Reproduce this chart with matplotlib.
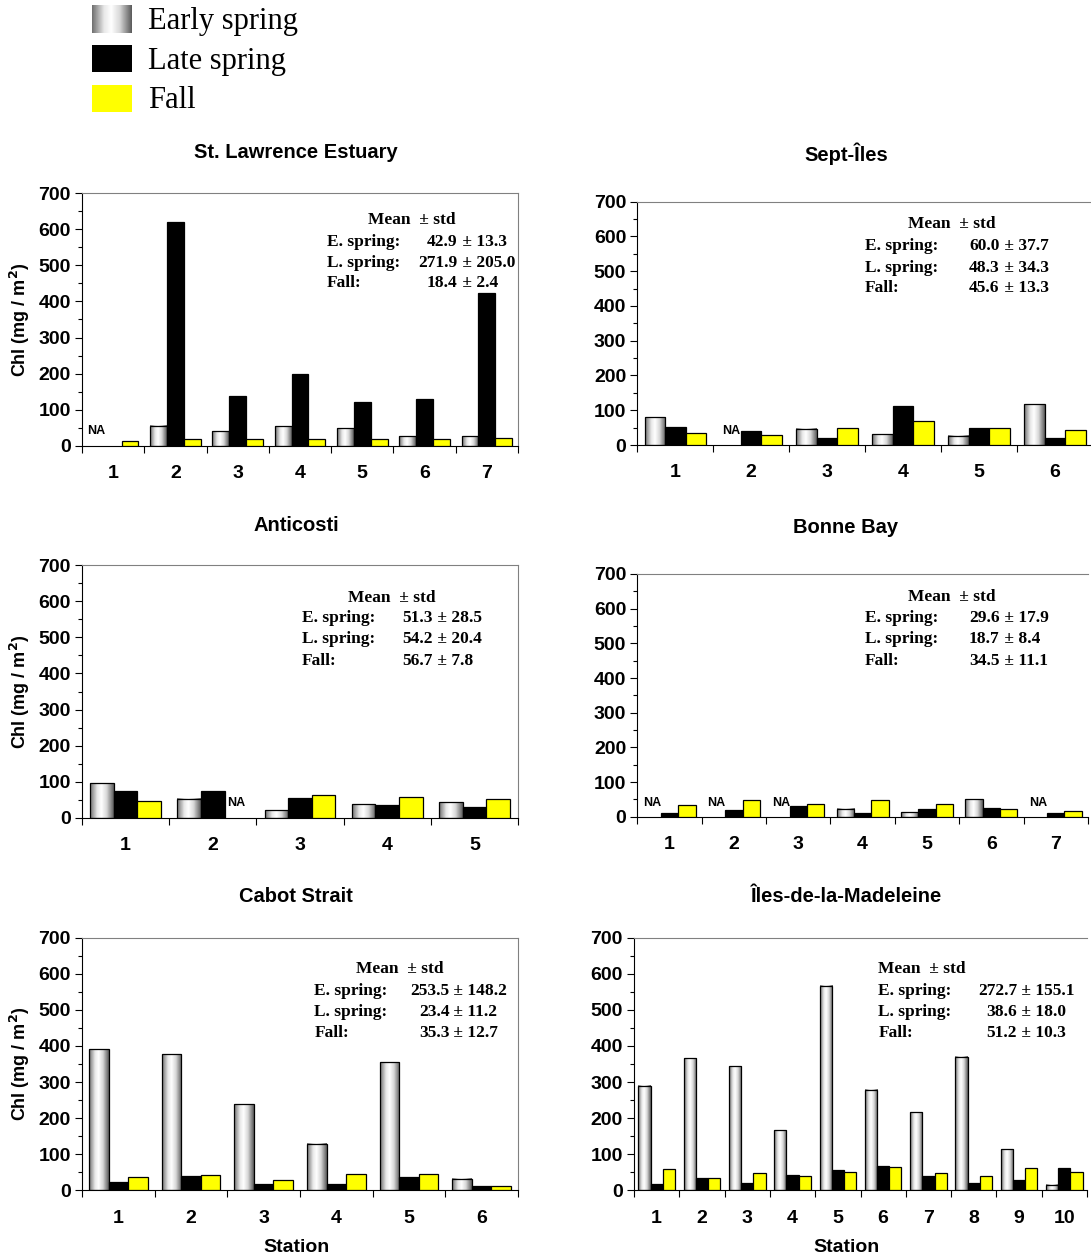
import numpy as np
import matplotlib
matplotlib.use('Agg')
import matplotlib.pyplot as plt
from matplotlib.colors import LinearSegmentedColormap
from matplotlib.patches import Rectangle

W, H = 1091, 1260
nan = np.nan

season_names = ['Early spring', 'Late spring', 'Fall']
stat_rows = ['E. spring:', 'L. spring:', 'Fall:']

# St. Lawrence Estuary
sle_stations = ['1', '2', '3', '4', '5', '6', '7']
sle_early = [nan, 55.5, 39.8, 54.6, 49.0, 26.8, 26.8]
sle_late = [nan, 620.5, 137.8, 198.8, 120.2, 129.5, 423.5]
sle_fall = [13.9, 17.6, 17.6, 19.4, 19.4, 17.6, 22.2]
sle_mean = ['42.9', '271.9', '18.4']
sle_std = ['13.3', '205.0', '2.4']
sle_na = [(0, 0)]

# Sept-Iles
sep_stations = ['1', '2', '3', '4', '5', '6']
sep_early = [79.6, nan, 47.0, 30.7, 26.8, 117.9]
sep_late = [52.7, 39.3, 21.1, 113.1, 48.9, 20.1]
sep_fall = [35.5, 28.8, 49.9, 68.1, 48.9, 44.1]
sep_mean = ['60.0', '48.3', '45.6']
sep_std = ['37.7', '34.3', '13.3']
sep_na = [(1, 0)]

# Anticosti
ant_stations = ['1', '2', '3', '4', '5']
ant_early = [96.2, 52.7, 21.3, 37.0, 42.5]
ant_late = [74.9, 73.1, 54.6, 36.1, 30.5]
ant_fall = [47.2, nan, 62.9, 58.3, 52.7]
ant_mean = ['51.3', '54.2', '56.7']
ant_std = ['28.5', '20.4', '7.8']
ant_na = [(1, 2)]

# Bonne Bay
bon_stations = ['1', '2', '3', '4', '5', '6', '7']
bon_early = [nan, nan, nan, 23.1, 14.4, 50.0, nan]
bon_late = [9.6, 20.2, 29.8, 11.5, 23.1, 26.0, 9.6]
bon_fall = [33.7, 47.1, 35.6, 47.1, 35.6, 21.2, 17.3]
bon_mean = ['29.6', '18.7', '34.5']
bon_std = ['17.9', '8.4', '11.1']
bon_na = [(0, 0), (1, 0), (2, 0), (6, 0)]

# Cabot Strait
cab_stations = ['1', '2', '3', '4', '5', '6']
cab_early = [390.6, 376.7, 238.2, 129.3, 354.6, 30.5]
cab_late = [23.1, 38.8, 16.6, 16.6, 36.0, 11.1]
cab_fall = [36.9, 42.5, 29.5, 44.3, 46.2, 12.0]
cab_mean = ['253.5', '23.4', '35.3']
cab_std = ['148.2', '11.2', '12.7']

# Iles-de-la-Madeleine
mad_stations = ['1', '2', '3', '4', '5', '6', '7', '8', '9', '10']
mad_early = [290.0, 365.7, 343.5, 166.2, 567.0, 278.9, 216.1, 370.3, 113.6, 13.9]
mad_late = [16.6, 34.2, 20.3, 42.5, 55.4, 66.5, 40.6, 20.3, 27.7, 61.9]
mad_fall = [60.0, 34.2, 48.9, 40.6, 51.7, 65.6, 48.9, 40.6, 61.9, 50.8]
mad_mean = ['272.7', '38.6', '51.2']
mad_std = ['155.1', '18.0', '10.3']

SANS = 'Liberation Sans'
SERIF = 'Liberation Serif'
TICK_FS = 14
STAT_FS = 12.5

cyl = LinearSegmentedColormap.from_list(
    'cyl', [(0, '#707070'), (0.3, '#e8e8e8'), (0.48, '#ffffff'),
            (0.7, '#d8d8d8'), (1, '#5c5c5c')])
grad = np.linspace(0, 1, 64).reshape(1, -1)

fig = plt.figure(figsize=(W / 100, H / 100), dpi=100)


def px(x, y):
    return x / W, 1 - y / H


def add_panel(box, title, title_xy, stations, early, late, fall, mean, std,
              stat_pos, na=(), xlabel=False, ylabel=True, right_col=False):
    left, top, right, bottom = box
    ax = fig.add_axes([left / W, 1 - bottom / H, (right - left) / W, (bottom - top) / H])
    n = len(stations)
    w = 0.27
    x = np.arange(n) + 0.5
    series = [early, late, fall]
    for k, vals in enumerate(series):
        xs = x + (k - 1) * w
        vals = np.array(vals, dtype=float)
        ok = ~np.isnan(vals)
        if k == 0:
            for xi, v in zip(xs[ok], vals[ok]):
                ax.imshow(grad, cmap=cyl, aspect='auto', zorder=2,
                          extent=[xi - w / 2, xi + w / 2, 0, v], interpolation='bilinear')
            ax.bar(xs[ok], vals[ok], w, facecolor='none', edgecolor='black',
                   linewidth=0.9, zorder=3)
        else:
            ax.bar(xs[ok], vals[ok], w, color='black' if k == 1 else '#ffff00',
                   edgecolor='black', linewidth=0.9, zorder=3)
    for st, k in na:
        ax.text(x[st] + (k - 1) * w, 40, 'NA', ha='center', va='center',
                fontsize=9, fontweight='bold', family=SANS)

    ax.set_xlim(0, n)
    ax.set_ylim(0, 700)
    ax.set_xticks(np.arange(n + 1))
    ax.set_xticklabels([])
    ax.set_xticks(x, minor=True)
    ax.set_xticklabels(stations, minor=True)
    ax.tick_params(axis='x', which='major', direction='out', length=5, width=0.8)
    ax.tick_params(axis='x', which='minor', length=0, pad=14)
    ax.set_yticks(np.arange(0, 701, 100))
    ax.set_yticks(np.arange(50, 700, 100), minor=True)
    ax.tick_params(axis='y', which='major', direction='out', length=5, width=0.8, pad=3)
    ax.tick_params(axis='y', which='minor', direction='out', length=3, width=0.8)
    for lab in ax.get_xticklabels(minor=True) + ax.get_yticklabels():
        lab.set_fontweight('bold')
        lab.set_fontsize(TICK_FS)
        lab.set_family(SANS)

    ax.spines['left'].set_color('black')
    ax.spines['bottom'].set_color('black')
    ax.spines['top'].set_color('#808080')
    ax.spines['right'].set_color('#808080')
    ax.spines['top'].set_linewidth(0.8)
    ax.spines['right'].set_linewidth(0.8)
    if right_col:
        ax.spines['right'].set_visible(False)

    if ylabel:
        ax.set_ylabel('Chl (mg / m$^\\mathbf{2}$)', fontsize=13, fontweight='bold',
                      family=SANS, labelpad=5)

    fig.text(*px(*title_xy), title, ha='center', va='center', fontsize=14.5,
             fontweight='bold', family=SANS)
    if xlabel:
        fig.text(*px(title_xy[0], 1248), 'Station', ha='center', va='center',
                 fontsize=14, fontweight='bold', family=SANS)

    # stats box
    mx, my, lx, vx, rows_y = stat_pos
    fig.text(*px(mx, my), 'Mean  \u00b1 std', ha='left', va='center',
             fontsize=STAT_FS, fontweight='bold', family=SERIF)
    for lab, m, s, ry in zip(stat_rows, mean, std, rows_y):
        fig.text(*px(lx, ry), lab, ha='left', va='center',
                 fontsize=STAT_FS, fontweight='bold', family=SERIF)
        fig.text(*px(vx, ry), m, ha='right', va='center',
                 fontsize=STAT_FS, fontweight='bold', family=SERIF)
        fig.text(*px(vx, ry), ' \u00b1 ' + s, ha='left', va='center',
                 fontsize=STAT_FS, fontweight='bold', family=SERIF)
    return ax


add_panel((82, 193.3, 518, 445.7), 'St. Lawrence Estuary', (296, 153),
          sle_stations, sle_early, sle_late, sle_fall, sle_mean, sle_std,
          (368, 220, 326.7, 457.7, (241.7, 262.7, 283.3)), na=sle_na)
add_panel((637.3, 201.7, 1093, 445), 'Sept-\u00celes', (846, 154),
          sep_stations, sep_early, sep_late, sep_fall, sep_mean, sep_std,
          (908.3, 224.3, 865, 999.7, (246, 267.7, 288.3)), na=sep_na,
          ylabel=False, right_col=True)
add_panel((82, 565.3, 518, 817.7), 'Anticosti', (296, 525),
          ant_stations, ant_early, ant_late, ant_fall, ant_mean, ant_std,
          (347.7, 597.7, 301.7, 432.7, (618.3, 639.3, 660.7)), na=ant_na)
add_panel((637.3, 574, 1088, 816.7), 'Bonne Bay', (846, 527),
          bon_stations, bon_early, bon_late, bon_fall, bon_mean, bon_std,
          (908.3, 597.3, 865, 999.7, (618.3, 639.3, 660.7)), na=bon_na,
          ylabel=False, right_col=True)
add_panel((82, 937.7, 518, 1190.3), 'Cabot Strait', (296, 897),
          cab_stations, cab_early, cab_late, cab_fall, cab_mean, cab_std,
          (356, 969.3, 314.3, 449.4, (990.7, 1012.3, 1033.3)), xlabel=True)
add_panel((634, 937.7, 1087, 1190.3), '\u00celes-de-la-Madeleine', (846, 897),
          mad_stations, mad_early, mad_late, mad_fall, mad_mean, mad_std,
          (878.3, 969.3, 878.3, 1017.1, (990.7, 1012.3, 1033.3)), xlabel=True,
          ylabel=False, right_col=True)

# legend at top left
lax = fig.add_axes([0, 1 - 120 / H, 400 / W, 120 / H])
lax.imshow(grad, cmap=cyl, aspect='auto', extent=[91.7, 131.7, 32.7, 5],
           interpolation='bilinear')
lax.add_patch(Rectangle((91.7, 45), 40, 26.7, facecolor='black', edgecolor='none'))
lax.add_patch(Rectangle((91.7, 85), 40, 26.7, facecolor='#ffff00', edgecolor='none'))
lax.set_xlim(0, 400)
lax.set_ylim(120, 0)
lax.axis('off')
for name, yy in zip(season_names, (22, 61, 100)):
    lax.text(148.3, yy, name, ha='left', va='center', fontsize=22, family=SERIF)

fig.savefig('out.png', dpi=100)
